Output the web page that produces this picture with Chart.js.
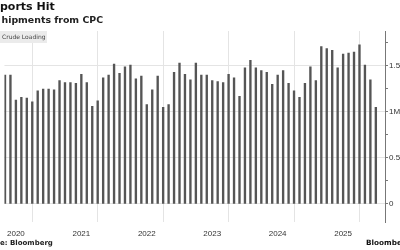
<!DOCTYPE html>
<html>
<head>
<meta charset="utf-8">
<script src="https://cdn.jsdelivr.net/npm/chart.js@4"></script>
<style>
  html, body { margin: 0; padding: 0; background: #fff; overflow: hidden; }
  #wrap { position: relative; width: 400px; height: 250px; overflow: hidden; }
  #wrap canvas { position: absolute; left: 0; top: 0; }
  .txt { position: absolute; white-space: nowrap; font-family: "DejaVu Sans", sans-serif; }
  #title { left: 0; top: 0; font-size: 11px; font-weight: bold; color: #111; }
  #subtitle { left: 1.5px; top: 14px; font-size: 9.4px; font-weight: bold; color: #222; }
  #legend { left: 0; top: 31px; width: 47px; height: 12px; background: #ebebeb; font-size: 6px; color: #444; line-height: 12px; padding-left: 2px; box-sizing: border-box; }
  #source { left: 0; top: 239px; font-size: 7px; font-weight: bold; color: #222; }
  #logo { left: 366px; top: 238px; font-size: 7.3px; font-weight: bold; color: #111; }
</style>
</head>
<body>
<div id="wrap">
  <canvas id="myChart" width="400" height="250"></canvas>
  <div class="txt" id="title">ports Hit</div>
  <div class="txt" id="subtitle">hipments from CPC</div>
  <div class="txt" id="legend">Crude Loading</div>
  <div class="txt" id="source">e: Bloomberg</div>
  <div class="txt" id="logo">Bloomberg</div>
</div>
<script>
// monthly loading, million barrels a day (May 2020 - Jan 2026)
const months = [
  "2020-05", "2020-06", "2020-07", "2020-08", "2020-09", "2020-10", "2020-11", "2020-12",
  "2021-01", "2021-02", "2021-03", "2021-04", "2021-05", "2021-06", "2021-07", "2021-08", "2021-09", "2021-10", "2021-11", "2021-12",
  "2022-01", "2022-02", "2022-03", "2022-04", "2022-05", "2022-06", "2022-07", "2022-08", "2022-09", "2022-10", "2022-11", "2022-12",
  "2023-01", "2023-02", "2023-03", "2023-04", "2023-05", "2023-06", "2023-07", "2023-08", "2023-09", "2023-10", "2023-11", "2023-12",
  "2024-01", "2024-02", "2024-03", "2024-04", "2024-05", "2024-06", "2024-07", "2024-08", "2024-09", "2024-10", "2024-11", "2024-12",
  "2025-01", "2025-02", "2025-03", "2025-04", "2025-05", "2025-06", "2025-07", "2025-08", "2025-09", "2025-10", "2025-11", "2025-12",
  "2026-01"
];
const loading = [
  1.40, 1.40, 1.13, 1.16, 1.15, 1.11, 1.23, 1.25,
  1.25, 1.24, 1.34, 1.32, 1.32, 1.31, 1.41, 1.32, 1.06, 1.12, 1.37, 1.40,
  1.52, 1.42, 1.49, 1.51, 1.36, 1.39, 1.08, 1.24, 1.39, 1.05, 1.08, 1.43,
  1.53, 1.41, 1.35, 1.53, 1.40, 1.40, 1.34, 1.33, 1.32, 1.41, 1.37, 1.17,
  1.48, 1.56, 1.48, 1.45, 1.43, 1.30, 1.40, 1.45, 1.31, 1.23, 1.16, 1.31,
  1.49, 1.34, 1.71, 1.69, 1.67, 1.48, 1.63, 1.64, 1.65, 1.73, 1.51, 1.35,
  1.05
];
const yearLabels = ["2020", "2021", "2022", "2023", "2024", "2025"];
const firstYear = 2020;

// month index counted from Jan of the first year
function monthIndex(s) {
  const parts = s.split("-");
  return (parseInt(parts[0]) - firstYear) * 12 + parseInt(parts[1]) - 1;
}

const points = months.map(function (m, i) {
  return { x: monthIndex(m), y: loading[i] };
});

const ctx = document.getElementById("myChart").getContext("2d");

new Chart(ctx, {
  type: "bar",
  data: {
    datasets: [
      {
        label: "Crude Loading",
        data: points,
        backgroundColor: "#555555",
        barThickness: 1.7,
      },
    ],
  },
  options: {
    responsive: false,
    animation: false,
    layout: { padding: { top: 31, left: 0, right: 0, bottom: 0 } },
    plugins: {
      legend: { display: false },
      tooltip: { enabled: false },
    },
    scales: {
      x: {
        type: "linear",
        offset: false,
        min: 3.9,
        max: 73.68,
        afterBuildTicks: function (axis) {
          const t = [];
          for (let v = 6; v <= 72; v += 6) t.push({ value: v });
          axis.ticks = t;
        },
        afterFit: function (axis) {
          axis.height = 28;
        },
        grid: {
          drawTicks: false,
          color: function (c) {
            return c.tick && c.tick.value % 12 === 0 ? "#e4e4e4" : "rgba(0,0,0,0)";
          },
        },
        border: { display: false },
        ticks: {
          autoSkip: false,
          maxRotation: 0,
          padding: 7,
          color: "#333",
          font: { family: "Liberation Sans", size: 8 },
          callback: function (v) {
            if (v % 12 !== 6) return "";
            return yearLabels[(v - 6) / 12] || "";
          },
        },
      },
      y: {
        position: "right",
        min: -0.196,
        max: 1.88,
        afterBuildTicks: function (axis) {
          const t = [];
          for (let v = 0; v <= 1.75; v += 0.25) t.push({ value: v });
          axis.ticks = t;
        },
        afterFit: function (axis) {
          axis.width = 15;
        },
        grid: {
          tickLength: 3,
          color: function (c) {
            return c.tick && c.tick.value % 0.5 === 0 ? "#e4e4e4" : "rgba(0,0,0,0)";
          },
          tickColor: "#777",
        },
        border: { display: true, color: "#777", width: 1 },
        ticks: {
          padding: 1,
          color: "#333",
          font: { family: "Liberation Sans", size: 8 },
          callback: function (v) {
            if (v % 0.5 !== 0) return "";
            if (v === 1) return "1M";
            return String(v);
          },
        },
      },
    },
  },
});
</script>
</body>
</html>
